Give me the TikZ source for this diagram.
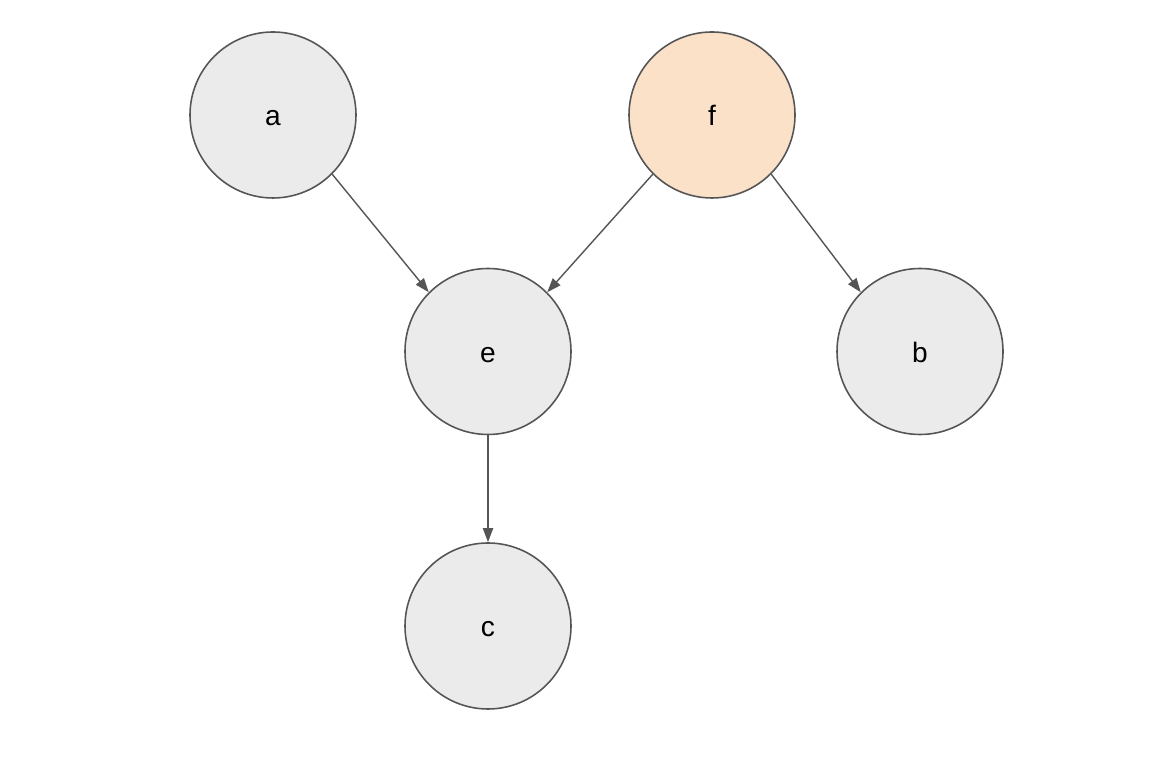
\documentclass[tikz,border=0pt]{standalone}
\usepackage{fontspec}
\setmainfont{Liberation Sans}
\usetikzlibrary{positioning,arrows.meta}
\definecolor{nodefill}{HTML}{EBEBEB}
\definecolor{peach}{HTML}{FAE1C8}
\definecolor{edge}{HTML}{555555}

\begin{document}
\begin{tikzpicture}[
  on grid,
  var/.style={circle, draw=edge, line width=0.45pt, fill=nodefill, minimum size=1.66cm, inner sep=0pt, text height=6pt, text depth=0pt, font=\fontsize{8}{10}\selectfont},
  arr/.style={-{Triangle[length=4pt,width=2.9pt]}, draw=edge, line width=0.4pt}]
\useasboundingbox (-4.88,-4.085) rectangle (6.76,3.515);
\node[var] (e) at (0,0) {e};
\node[var, above left=2.365cm and 2.15cm of e] (a) {a};
\node[var, fill=peach, above right=2.365cm and 2.24cm of e] (f) {f};
\node[var, right=4.32cm of e] (b) {b};
\node[var, below=2.745cm of e] (c) {c};
\draw[arr] (a.-45) -- (e.135);
\draw[arr] (f.-135) -- (e.45);
\draw[arr] (f.-45) -- (b.135);
\draw[arr] (e) -- (c);
\end{tikzpicture}
\end{document}
